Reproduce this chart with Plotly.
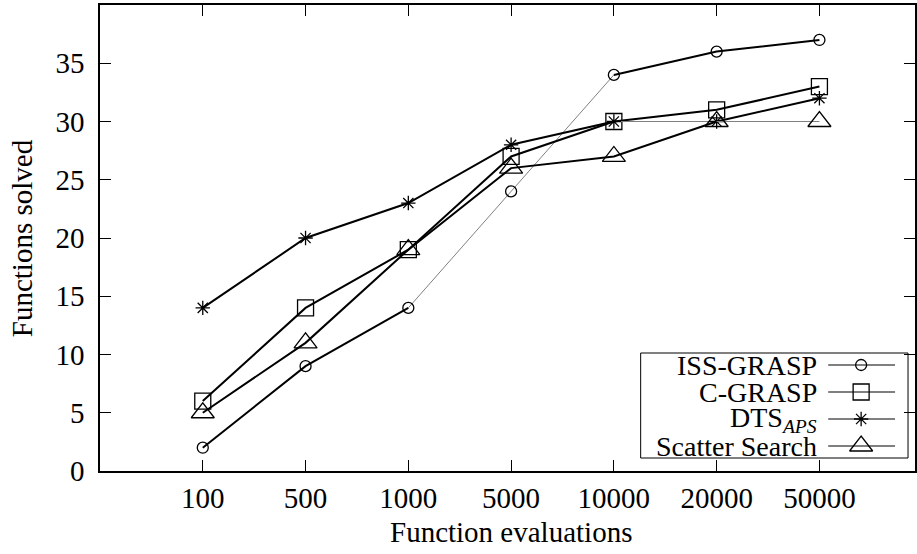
import plotly.graph_objects as go

categories = ["100", "500", "1000", "5000", "10000", "20000", "50000"]
iss_grasp = [2, 9, 14, 24, 34, 36, 37]
c_grasp = [6, 14, 19, 27, 30, 31, 33]
dts_aps = [14, 20, 23, 28, 30, 30, 32]
scatter_search = [5, 11, 19, 26, 27, 30, 30]
y_ticks = [0, 5, 10, 15, 20, 25, 30, 35]

FONT = "Liberation Serif"
FS = 29
LFS = 28
BLACK = "#000000"
GRAY = "#808080"

idx = list(range(len(categories)))

# (name, values, marker symbol, marker size, segments drawn thin/gray as index ranges)
series = [
    ("ISS-GRASP", iss_grasp, "circle-open", 11, [(2, 4)]),
    ("C-GRASP", c_grasp, "square-open", 16, []),
    ("DTS<sub><i>APS</i></sub>", dts_aps, "asterisk-open", 12, [(4, 5)]),
    ("Scatter Search", scatter_search, "triangle-up-open", 20, [(5, 6)]),
]

fig = go.Figure()

for name, vals, sym, msz, thin in series:
    n = len(vals)
    seg_style = [any(a <= i < b for a, b in thin) for i in range(n - 1)]
    i = 0
    while i < n - 1:
        j = i
        while j + 1 < n - 1 and seg_style[j + 1] == seg_style[i]:
            j += 1
        fig.add_trace(go.Scatter(
            x=idx[i:j + 2], y=vals[i:j + 2], mode="lines",
            line=dict(color=GRAY if seg_style[i] else BLACK,
                      width=1 if seg_style[i] else 2),
            showlegend=False, hoverinfo="skip"))
        i = j + 1
    fig.add_trace(go.Scatter(
        x=idx, y=vals, mode="markers",
        marker=dict(symbol=sym, size=msz, color=BLACK,
                    line=dict(color=BLACK, width=1.3)),
        showlegend=False, name=name))

# custom legend (text right-aligned, sample on the right), in pixel-like overlay axes
L, R, T, B = 100, 917, 5, 471
leg_rows = [365, 392, 419, 446]
for (name, vals, sym, msz, thin), yy in zip(series, leg_rows):
    fig.add_trace(go.Scatter(
        x=[830, 897], y=[yy, yy], mode="lines",
        line=dict(color=BLACK, width=1), xaxis="x2", yaxis="y2",
        showlegend=False, hoverinfo="skip"))
    fig.add_trace(go.Scatter(
        x=[863], y=[yy], mode="markers", xaxis="x2", yaxis="y2",
        marker=dict(symbol=sym, size=msz, color=BLACK,
                    line=dict(color=BLACK, width=1.3)),
        showlegend=False, hoverinfo="skip"))
    fig.add_annotation(x=821, y=yy, xref="x2", yref="y2", text=name,
                       showarrow=False, xanchor="right", yanchor="middle",
                       font=dict(family=FONT, size=LFS, color=BLACK))

fig.add_shape(type="rect", xref="x2", yref="y2", x0=642, x1=910, y0=353, y1=458,
              line=dict(color=BLACK, width=1), fillcolor="rgba(0,0,0,0)")

fig.update_layout(
    width=917, height=554,
    margin=dict(l=L, r=917 - R, t=T, b=554 - B, pad=0),
    paper_bgcolor="white", plot_bgcolor="white",
    font=dict(family=FONT, size=FS, color=BLACK),
    showlegend=False,
    xaxis=dict(
        range=[-1, 6.93], tickmode="array", tickvals=idx, ticktext=categories,
        ticks="inside", ticklen=11, tickwidth=1, tickcolor=BLACK,
        showline=True, linecolor=BLACK, linewidth=1.5, mirror="ticks",
        showgrid=False, zeroline=False, ticklabelstandoff=0,
        tickfont=dict(family=FONT, size=FS, color=BLACK),
    ),
    yaxis=dict(
        range=[0, 40], tickmode="array", tickvals=y_ticks,
        ticks="inside", ticklen=11, tickwidth=1, tickcolor=BLACK,
        showline=True, linecolor=BLACK, linewidth=1.5, mirror="ticks",
        showgrid=False, zeroline=False, ticklabelstandoff=8,
        tickfont=dict(family=FONT, size=FS, color=BLACK),
    ),
    xaxis2=dict(overlaying="x", range=[L, R], visible=False, fixedrange=True),
    yaxis2=dict(overlaying="y", range=[B, T], visible=False, fixedrange=True),
)

def px_x(p):
    return (p - L) / (R - L)

def px_y(p):
    return (B - p) / (B - T)

fig.add_annotation(x=px_x(512), y=px_y(532), xref="paper", yref="paper",
                   text="Function evaluations", showarrow=False,
                   xanchor="center", yanchor="middle",
                   font=dict(family=FONT, size=FS, color=BLACK))
fig.add_annotation(x=px_x(22), y=px_y(238), xref="paper", yref="paper",
                   text="Functions solved", showarrow=False, textangle=-90,
                   xanchor="center", yanchor="middle",
                   font=dict(family=FONT, size=FS, color=BLACK))

fig.write_html("out.html", config={"displayModeBar": False},
               post_script="document.body.style.margin='0';document.body.style.padding='0';")
